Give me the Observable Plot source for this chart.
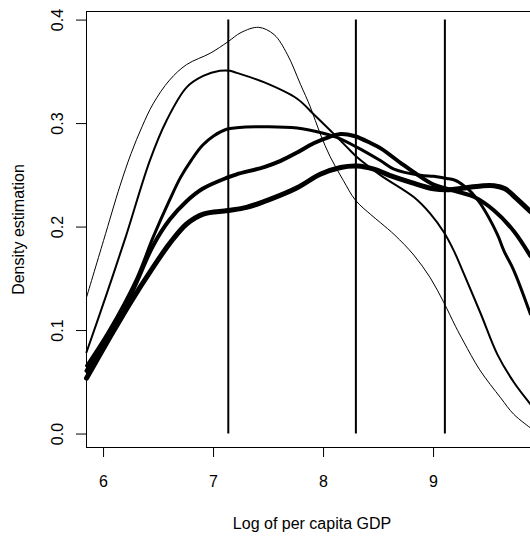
<!DOCTYPE html>
<html>
<head>
<meta charset="utf-8">
<script src="https://cdn.jsdelivr.net/npm/d3@7"></script>
<script src="https://cdn.jsdelivr.net/npm/@observablehq/plot@0.6"></script>
<style>
  html, body { margin: 0; padding: 0; background: #fff; overflow: hidden; }
  #chart { width: 530px; height: 536px; overflow: hidden; }
  #chart svg { max-width: none !important; font-family: "Liberation Sans", Arial, Helvetica, sans-serif; }
</style>
</head>
<body>
<div id="chart"></div>
<script>
// Tick values
const xTicks = [6, 7, 8, 9];
const yTicks = [0.0, 0.1, 0.2, 0.3, 0.4];
// Vertical reference lines (log GDP cut points)
const cutPoints = [7.134, 8.294, 9.103];

// Density curves, [log GDP, density], from thinnest to thickest line
const density1 = [[5.845,0.132],[6.0,0.187],[6.15,0.24],[6.25,0.271],[6.35,0.297],[6.45,0.319],[6.6,0.342],[6.755,0.357],[6.97,0.368],[7.13,0.379],[7.25,0.388],[7.41,0.393],[7.55,0.386],[7.67,0.367],[7.79,0.338],[7.88,0.316],[7.97,0.290],[8.06,0.268],[8.18,0.245],[8.29,0.226],[8.43,0.212],[8.52,0.204],[8.65,0.192],[8.82,0.173],[8.97,0.151],[9.094,0.127],[9.2,0.104],[9.275,0.089],[9.42,0.062],[9.61,0.035],[9.73,0.019],[9.88,0.006]];
const density2 = [[5.845,0.079],[6.027,0.135],[6.2,0.19],[6.42,0.264],[6.573,0.303],[6.755,0.335],[6.906,0.346],[7.057,0.351],[7.15,0.351],[7.21,0.349],[7.457,0.340],[7.76,0.324],[7.91,0.309],[8.064,0.293],[8.215,0.277],[8.3,0.268],[8.52,0.250],[8.82,0.229],[8.97,0.213],[9.094,0.195],[9.185,0.177],[9.275,0.155],[9.43,0.116],[9.58,0.077],[9.73,0.050],[9.88,0.029]];
const density3 = [[5.845,0.066],[6.05,0.1],[6.3,0.15],[6.45,0.19],[6.6,0.226],[6.7,0.248],[6.8,0.265],[6.9,0.279],[7.0,0.288],[7.118,0.2945],[7.21,0.296],[7.5,0.297],[7.76,0.2957],[7.97,0.2914],[8.12,0.2866],[8.306,0.277],[8.52,0.264],[8.64,0.256],[8.88,0.250],[9.0,0.249],[9.12,0.247],[9.2,0.245],[9.275,0.240],[9.35,0.233],[9.43,0.222],[9.58,0.193],[9.64,0.177],[9.73,0.158],[9.88,0.116]];
const density4 = [[5.845,0.061],[6.05,0.097],[6.25,0.135],[6.45,0.182],[6.6,0.207],[6.755,0.225],[6.9,0.237],[7.13,0.248],[7.21,0.251],[7.46,0.258],[7.61,0.264],[7.76,0.272],[7.91,0.281],[8.05,0.287],[8.155,0.290],[8.28,0.288],[8.43,0.281],[8.52,0.276],[8.7,0.262],[8.82,0.253],[9.0,0.241],[9.12,0.237],[9.37,0.229],[9.55,0.216],[9.73,0.196],[9.88,0.172]];
const density5 = [[5.845,0.054],[6.05,0.092],[6.25,0.128],[6.45,0.161],[6.6,0.184],[6.755,0.203],[6.906,0.2126],[7.13,0.216],[7.3,0.219],[7.518,0.227],[7.76,0.238],[7.97,0.251],[8.155,0.2576],[8.306,0.259],[8.457,0.256],[8.6,0.250],[8.8,0.243],[9.0,0.237],[9.12,0.236],[9.3,0.238],[9.45,0.240],[9.55,0.240],[9.65,0.237],[9.75,0.228],[9.88,0.215]];

const curves = [density1, density2, density3, density4, density5];
const widths = [1, 2, 3, 4, 5];

const lineMarks = curves.map((c, i) =>
  Plot.line(c, {x: d => d[0], y: d => d[1], stroke: "black", strokeWidth: widths[i], curve: "catmull-rom", strokeLinejoin: "round"})
);

const chart = Plot.plot({
  width: 537,
  height: 536,
  marginLeft: 86,
  marginRight: 0,
  marginTop: 11,
  marginBottom: 89,
  style: {fontFamily: "'Liberation Sans', Arial, Helvetica, sans-serif", fontSize: "16px", background: "white", maxWidth: "none"},
  x: {domain: [5.845, 9.945]},
  y: {domain: [-0.013, 0.4083]},
  marks: [
    Plot.axisX({ticks: xTicks, tickSize: 10, tickFormat: () => "", label: null, strokeWidth: 1}),
    Plot.axisY({ticks: yTicks, tickSize: 10, tickFormat: () => "", label: null, strokeWidth: 1}),
    Plot.text(xTicks, {x: d => d, text: d => String(d), frameAnchor: "bottom", lineAnchor: "middle", textAnchor: "middle", dy: 34, fontSize: 16, fill: "black"}),
    Plot.text(yTicks, {y: d => d, text: d => d.toFixed(1), frameAnchor: "left", textAnchor: "middle", lineAnchor: "middle", dx: -29, rotate: -90, fontSize: 16, fill: "black"}),
    Plot.text(["Log of per capita GDP"], {text: d => d, frameAnchor: "bottom", textAnchor: "middle", lineAnchor: "middle", dy: 76, fontSize: 16, fill: "black"}),
    Plot.text(["Density estimation"], {text: d => d, frameAnchor: "left", textAnchor: "middle", lineAnchor: "middle", dx: -68, rotate: -90, fontSize: 16, fill: "black"}),
    Plot.ruleX(cutPoints, {x: d => d, y1: 0, y2: 0.4, stroke: "black", strokeWidth: 2}),
    ...lineMarks,
    Plot.frame({stroke: "black", strokeWidth: 1})
  ]
});

document.getElementById("chart").appendChild(chart);
</script>
</body>
</html>
